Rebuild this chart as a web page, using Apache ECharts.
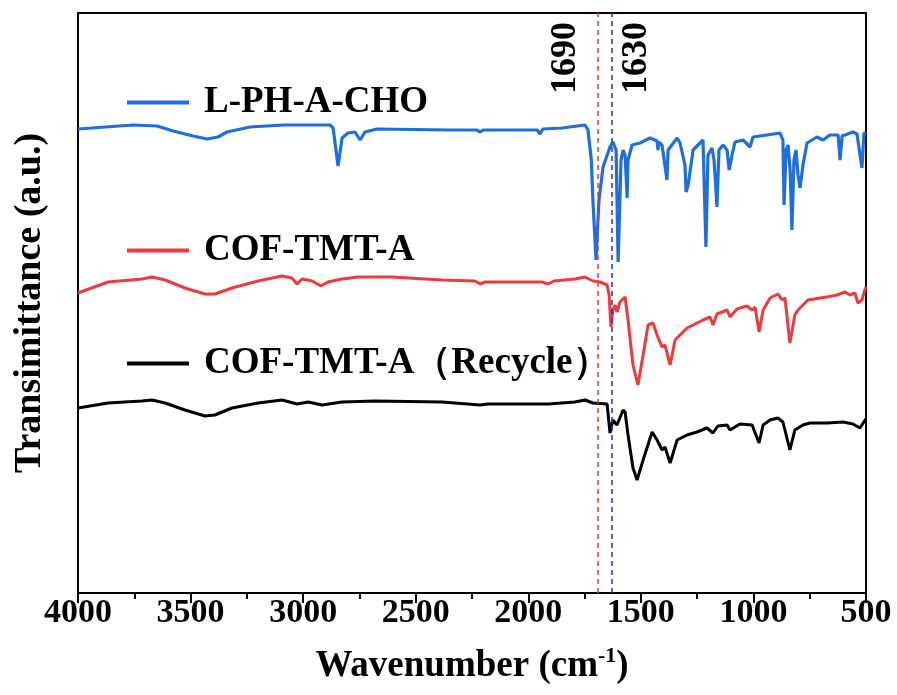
<!DOCTYPE html>
<html>
<head>
<meta charset="utf-8">
<script src="https://cdn.jsdelivr.net/npm/echarts@6/dist/echarts.min.js"></script>
<style>
html,body{margin:0;padding:0;background:#fff;}
#chart{width:897px;height:695px;}
</style>
</head>
<body>
<div id="chart"></div>
<script>
// Series names
const seriesNames = ['L-PH-A-CHO', 'COF-TMT-A', 'COF-TMT-A\uFF08Recycle\uFF09'];
// Wavenumber (cm-1), transmittance (a.u.)
const lphWave = [4000,3756,3649,3578,3489,3427,3378,3338,3236,3089,2881,2867,2845,2827,2801,2770,2747,2725,2672,2348,2230,2214,2200,1960,1948,1935,1850,1748,1735,1720,1713,1699,1686,1668,1637,1624,1610,1601,1588,1579,1570,1561,1557,1539,1504,1459,1428,1424,1419,1406,1384,1379,1339,1326,1304,1299,1290,1268,1224,1211,1202,1184,1175,1162,1153,1135,1117,1108,1095,1082,1046,1015,1002,940,882,869,864,855,846,837,829,820,811,802,793,780,762,718,691,660,624,615,606,558,540,518,509,500];
const lphT = [46.4,46.8,46.7,46.2,45.7,45.4,45.6,46.1,46.6,46.8,46.8,46.5,42.7,45.5,46.0,46.1,45.3,46.1,46.4,46.3,46.3,46.1,46.3,46.3,45.9,46.4,46.5,46.8,46.3,43.3,39.3,33.3,39.3,42.6,44.6,45.1,44.3,33.1,43.3,44.3,43.8,39.5,43.3,44.8,45.0,45.5,45.2,44.3,45.1,44.8,41.3,44.3,45.5,45.0,42.8,40.1,40.8,44.3,45.3,34.6,43.8,44.5,43.3,38.6,44.3,44.8,44.3,42.3,43.8,45.1,45.3,44.6,45.6,45.8,46.0,45.3,38.8,44.3,44.8,42.3,36.3,43.3,44.3,41.8,40.5,42.8,45.0,45.6,45.3,45.8,45.8,43.3,45.7,46.1,45.9,42.5,46.0,46.0];

const cofWave = [4000,3867,3716,3671,3613,3525,3436,3392,3316,3200,3094,3050,3027,3005,2960,2921,2890,2827,2756,2605,2383,2237,2214,2192,1939,1912,1886,1793,1748,1713,1682,1650,1641,1633,1624,1615,1606,1593,1570,1557,1535,1513,1490,1468,1446,1428,1406,1393,1370,1348,1326,1295,1268,1224,1193,1180,1162,1117,1104,1073,1029,1006,993,975,957,926,891,873,860,838,816,802,780,758,704,673,629,593,571,549,536,518,504,500];
const cofT = [30.0,31.1,31.4,31.6,31.3,30.5,29.9,29.9,30.5,31.2,31.7,31.5,30.9,31.4,31.2,30.7,31.1,31.4,31.6,31.6,31.3,31.2,30.9,31.1,31.1,30.9,31.2,31.4,31.6,31.2,31.1,30.8,29.8,26.6,28.3,28.8,28.1,29.1,29.6,27.3,22.8,20.8,23.8,26.8,27.0,25.8,24.6,24.8,22.8,25.3,25.8,26.5,26.8,27.3,27.6,26.8,27.9,28.3,27.6,28.4,28.7,28.3,28.6,26.1,28.3,29.5,29.9,29.3,29.5,25.0,27.8,28.3,28.8,29.3,29.5,29.6,29.8,30.1,29.8,30.0,29.0,29.3,30.4,30.6];

const recWave = [4000,3867,3716,3671,3613,3525,3436,3392,3316,3200,3094,3027,2978,2916,2827,2680,2383,2214,2179,1912,1793,1748,1713,1650,1637,1624,1606,1579,1570,1557,1535,1517,1490,1450,1428,1406,1393,1370,1339,1295,1251,1206,1180,1158,1117,1104,1060,1006,975,957,926,891,869,838,816,780,749,673,602,558,527,504,500];
const recT = [18.5,19.0,19.2,19.3,19.0,18.3,17.7,17.8,18.5,19.0,19.3,18.9,19.1,18.8,19.1,19.2,19.1,18.8,18.9,18.9,19.1,19.3,19.0,18.9,16.0,17.3,16.8,18.3,18.1,15.8,12.5,11.3,13.3,16.1,15.3,14.3,14.6,13.0,15.3,15.8,16.1,16.5,16.0,16.7,16.8,16.3,16.9,16.8,15.0,16.8,17.3,17.5,17.1,14.3,16.3,16.8,17.0,17.0,17.1,16.9,16.5,17.3,17.4];

// x-axis ticks and marked bands
const xTicks = [4000,3500,3000,2500,2000,1500,1000,500];
const markWaves = [1690, 1630];

const colors = ['#1e6fdc', '#ec3b3f', '#000000'];
const serif = '"Times New Roman","Liberation Serif",serif';

function pairs(w, t){ return w.map((x,i)=>[x, t[i]]); }

const chart = echarts.init(document.getElementById('chart'));

const legendTops = [84, 232, 345];

chart.setOption({
  animation: false,
  backgroundColor: '#fff',
  grid: { left: 78, right: 31, top: 13, bottom: 102, containLabel: false, outerBoundsMode: 'none',
          show: true, borderColor: '#000', borderWidth: 2 },
  legend: seriesNames.map((n, i) => ({
    data: [n],
    left: 127,
    top: legendTops[i],
    padding: 0,
    icon: 'rect',
    itemWidth: 62,
    itemHeight: 4,
    selectedMode: false,
    textStyle: { fontFamily: serif, fontWeight: 'bold', fontSize: 37, color: '#000', padding: [0,0,0,10] }
  })),
  xAxis: {
    type: 'value',
    inverse: true,
    min: 500, max: 4000, interval: 500,
    axisLine: { show: true, lineStyle: { color: '#000', width: 2 } },
    axisTick: { show: true, length: 10, lineStyle: { color: '#000', width: 2 } },
    minorTick: { show: true, splitNumber: 2, length: 6, lineStyle: { color: '#000', width: 2 } },
    splitLine: { show: false },
    axisLabel: {
      fontFamily: serif, fontWeight: 'bold', fontSize: 34, color: '#000', margin: 3,
      formatter: v => xTicks.includes(v) ? String(v) : ''
    },
    name: '{a|Wavenumber (cm}{s|-1}{a|)}',
    nameLocation: 'middle',
    nameGap: 52,
    nameTextStyle: {
      rich: {
        a: { fontFamily: serif, fontWeight: 'bold', fontSize: 37, color: '#000' },
        s: { fontFamily: serif, fontWeight: 'bold', fontSize: 22, color: '#000', padding: [0,0,20,0] }
      }
    }
  },
  yAxis: {
    type: 'value',
    min: 0, max: 58,
    axisLine: { show: true, lineStyle: { color: '#000', width: 2 } },
    axisTick: { show: false },
    axisLabel: { show: false },
    splitLine: { show: false },
    name: 'Transimittance (a.u.)',
    nameLocation: 'middle',
    nameGap: 29,
    nameTextStyle: { fontFamily: serif, fontWeight: 'bold', fontSize: 38, color: '#000' }
  },
  series: [
    {
      name: seriesNames[0], type: 'line', showSymbol: false, symbol: 'none',
      data: pairs(lphWave, lphT),
      lineStyle: { color: colors[0], width: 3.2 }, itemStyle: { color: colors[0] },
      z: 3,
      markLine: {
        silent: true, symbol: 'none', animation: false,
        data: [
          { xAxis: markWaves[0], lineStyle: { color: '#e8383d', type: [5,4], width: 1.5 },
            label: { show: true, formatter: String(markWaves[0]), position: 'insideEndTop', distance: [9, 14],
                     fontFamily: serif, fontWeight: 'bold', fontSize: 36, color: '#000' } },
          { xAxis: markWaves[1], lineStyle: { color: '#2a2ae0', type: [5,4], width: 1.5 },
            label: { show: true, formatter: String(markWaves[1]), position: 'insideEndBottom', distance: [9, 7],
                     fontFamily: serif, fontWeight: 'bold', fontSize: 36, color: '#000' } }
        ]
      }
    },
    {
      name: seriesNames[1], type: 'line', showSymbol: false, symbol: 'none',
      data: pairs(cofWave, cofT),
      lineStyle: { color: colors[1], width: 3 }, itemStyle: { color: colors[1] }, z: 2
    },
    {
      name: seriesNames[2], type: 'line', showSymbol: false, symbol: 'none',
      data: pairs(recWave, recT),
      lineStyle: { color: colors[2], width: 3 }, itemStyle: { color: colors[2] }, z: 2
    }
  ]
});
</script>
</body>
</html>
